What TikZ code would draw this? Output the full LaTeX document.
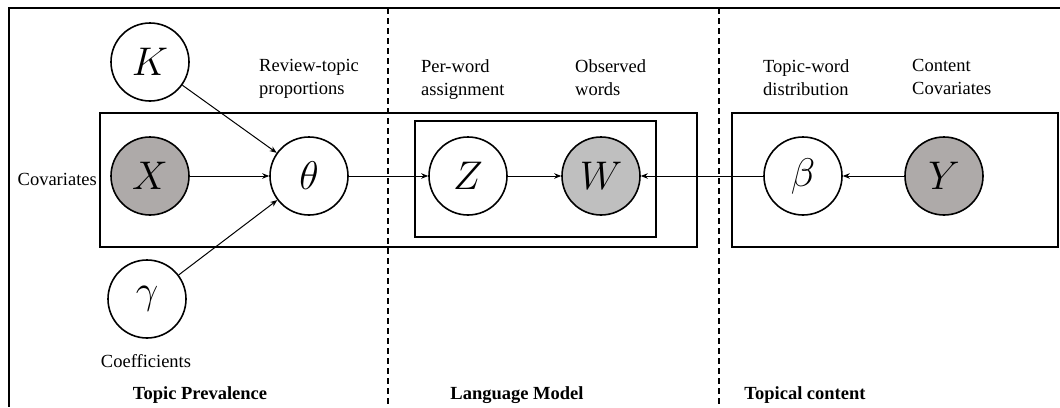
\RequirePackage{fix-cm}
\documentclass[tikz,border=0pt]{standalone}
\usepackage{fontspec}
\setmainfont{Liberation Serif}
\usetikzlibrary{arrows.meta}
\definecolor{obsdark}{HTML}{AEAAA9}
\definecolor{obslight}{HTML}{BFBFBF}
\begin{document}
\begin{tikzpicture}[x=1pt,y=-1pt,
  var/.style={circle,draw,line width=1.6pt,minimum size=78pt,inner sep=0pt,fill=white,font=\fontsize{40}{44}\selectfont},
  arr/.style={line width=1pt,-{Stealth[length=7pt,width=5.5pt]}},
  plate/.style={draw,line width=1.3pt},
  lab/.style={anchor=north west,align=left,inner sep=0pt,font=\fontsize{18.5}{23}\selectfont},
  sec/.style={inner sep=0pt,font=\fontsize{18.5}{23}\selectfont\bfseries},
  divider/.style={line width=1.2pt,dash pattern=on 6pt off 4pt}]
\useasboundingbox (0,0) rectangle (1060,407);
% frame
\draw[line width=1.5pt] (1060,8) -- (9,8) -- (9,407);
\draw[divider] (388,8) -- (388,407);
\draw[divider] (719,8) -- (719,407);
% plates
\draw[plate] (100,113) rectangle (697,247);
\draw[plate] (415,121) rectangle (656,237);
\draw[plate] (732,113) rectangle (1058,247);
% nodes
\node[var] (K) at (150,62) {$K$};
\node[var,fill=obsdark] (X) at (150,176) {$X$};
\node[var] (theta) at (309,176) {$\theta$};
\node[var] (gamma) at (147,299) {$\gamma$};
\node[var] (Z) at (468,176) {$Z$};
\node[var,fill=obslight] (W) at (601,176) {$W$};
\node[var] (beta) at (803,176) {$\beta$};
\node[var,fill=obsdark] (Y) at (944,176) {$Y$};
% edges
\draw[arr] (K) -- (theta);
\draw[arr] (X) -- (theta);
\draw[arr] (gamma) -- (theta);
\draw[arr] (theta) -- (Z);
\draw[arr] (Z) -- (W);
\draw[arr] (beta) -- (W);
\draw[arr] (Y) -- (beta);
% labels
\node[lab] (l1) at (259,59) {Review-topic\\proportions};
\node[lab] (l2) at (421,59) {Per-word\\assignment};
\node[lab] (l3) at (575,59) {Observed\\words};
\node[lab] (l4) at (763,59) {Topic-word\\distribution};
\node[lab] (l5) at (912,59) {Content\\Covariates};
\node[lab,anchor=east] (cov) at (97,179) {Covariates};
\node[lab,anchor=center] (coef) at (146,361) {Coefficients};
\node[sec] (s1) at (200,395) {Topic Prevalence};
\node[sec] (s2) at (517,395) {Language Model};
\node[sec] (s3) at (805,395) {Topical content};
\end{tikzpicture}
\end{document}
